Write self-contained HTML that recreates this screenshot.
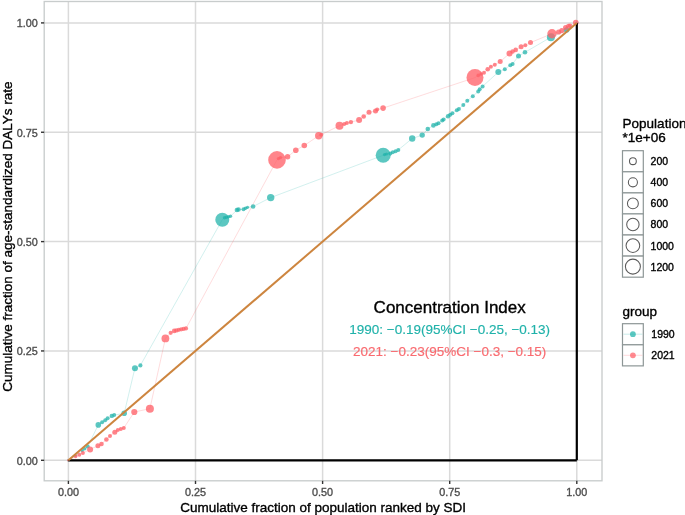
<!DOCTYPE html><html><head><meta charset="utf-8"><style>html,body{margin:0;padding:0;background:#fff;}svg{display:block;filter:blur(0.35px);}text{font-family:"Liberation Sans",sans-serif;stroke-width:0.35px;}</style></head><body>
<svg width="685" height="515" viewBox="0 0 685 515">
<rect x="0" y="0" width="685" height="515" fill="#fff"/>
<line x1="68.40" y1="1.5" x2="68.40" y2="480.8" stroke="#dadada" stroke-width="1.5"/>
<line x1="44.2" y1="460.30" x2="602.0" y2="460.30" stroke="#dadada" stroke-width="1.5"/>
<line x1="195.50" y1="1.5" x2="195.50" y2="480.8" stroke="#dadada" stroke-width="1.5"/>
<line x1="44.2" y1="350.95" x2="602.0" y2="350.95" stroke="#dadada" stroke-width="1.5"/>
<line x1="322.60" y1="1.5" x2="322.60" y2="480.8" stroke="#dadada" stroke-width="1.5"/>
<line x1="44.2" y1="241.60" x2="602.0" y2="241.60" stroke="#dadada" stroke-width="1.5"/>
<line x1="449.70" y1="1.5" x2="449.70" y2="480.8" stroke="#dadada" stroke-width="1.5"/>
<line x1="44.2" y1="132.25" x2="602.0" y2="132.25" stroke="#dadada" stroke-width="1.5"/>
<line x1="576.80" y1="1.5" x2="576.80" y2="480.8" stroke="#dadada" stroke-width="1.5"/>
<line x1="44.2" y1="22.90" x2="602.0" y2="22.90" stroke="#dadada" stroke-width="1.5"/>
<polyline points="68.4,460.3 75.5,455.5 82.3,450.6 84.7,448.8 87.7,446.4 98.3,424.9 102.1,422.3 105.2,420.2 107.6,418.3 111.8,415.9 114.2,415.1 124.2,413.3 134.9,368.2 140.4,365.4 222.3,219.7 224.5,217.8 226.5,217.3 228.5,216.8 230.5,216.3 236.9,210.0 238.5,209.5 243.5,209.3 245.5,208.2 247.5,207.3 253.1,206.5 270.7,197.6 383.2,155.3 384.5,154.6 386.5,154.0 390.3,153.4 392.8,152.2 395.6,151.3 398.3,149.9 412.2,138.5 422.2,135.1 427.8,129.0 433.4,125.4 436.3,124.2 438.5,123.2 442.2,120.5 443.6,119.5 448.0,116.2 450.2,114.7 452.4,113.2 456.8,110.3 458.9,108.9 463.3,104.9 467.3,100.8 472.8,96.2 478.2,91.5 479.7,89.3 482.6,86.4 498.3,72.1 504.8,69.3 510.3,65.2 512.6,63.9 518.5,56.1 525.0,52.3 550.9,37.2 566.6,30.0 576.8,22.9" fill="none" stroke="#20B2AA" stroke-opacity="0.25" stroke-width="0.8"/>
<polyline points="68.4,460.3 75.6,456.4 79.3,454.8 82.9,453.0 90.1,449.4 97.9,445.8 101.5,444.0 106.4,439.5 110.0,435.9 114.8,432.3 117.8,430.1 120.8,428.9 123.8,428.0 134.3,412.0 149.9,408.7 165.4,338.4 170.7,332.8 174.2,330.9 176.4,330.4 178.8,329.8 181.2,329.3 183.6,328.9 186.0,328.4 277.0,159.9 278.5,158.6 280.5,157.6 287.6,156.8 295.8,150.2 304.3,145.5 318.7,135.7 321.3,134.7 339.5,125.7 344.3,124.1 346.9,123.1 350.9,122.1 359.1,120.0 363.7,116.5 369.0,112.2 375.5,111.1 377.2,109.5 383.1,108.1 475.0,77.6 478.2,75.4 481.1,74.0 484.0,72.8 487.7,69.3 490.9,66.7 494.8,64.7 500.2,61.6 509.5,53.5 512.6,51.5 515.7,49.9 521.1,46.8 525.3,45.3 530.5,42.6 552.0,33.7 558.6,32.0 561.8,30.6 565.5,27.4 568.5,26.3 570.0,25.6 575.8,22.5" fill="none" stroke="#F96B70" stroke-opacity="0.3" stroke-width="0.8"/>
<circle cx="68.4" cy="460.3" r="1.2" fill="#20B2AA" fill-opacity="0.73"/>
<circle cx="75.5" cy="455.5" r="1.3" fill="#20B2AA" fill-opacity="0.73"/>
<circle cx="82.3" cy="450.6" r="1.6" fill="#20B2AA" fill-opacity="0.73"/>
<circle cx="84.7" cy="448.8" r="1.8" fill="#20B2AA" fill-opacity="0.73"/>
<circle cx="87.7" cy="446.4" r="2.0" fill="#20B2AA" fill-opacity="0.73"/>
<circle cx="98.3" cy="424.9" r="2.8" fill="#20B2AA" fill-opacity="0.73"/>
<circle cx="102.1" cy="422.3" r="2.0" fill="#20B2AA" fill-opacity="0.73"/>
<circle cx="105.2" cy="420.2" r="2.0" fill="#20B2AA" fill-opacity="0.73"/>
<circle cx="107.6" cy="418.3" r="2.0" fill="#20B2AA" fill-opacity="0.73"/>
<circle cx="111.8" cy="415.9" r="2.2" fill="#20B2AA" fill-opacity="0.73"/>
<circle cx="114.2" cy="415.1" r="2.0" fill="#20B2AA" fill-opacity="0.73"/>
<circle cx="124.2" cy="413.3" r="2.8" fill="#20B2AA" fill-opacity="0.73"/>
<circle cx="134.95" cy="368.2" r="3.0" fill="#20B2AA" fill-opacity="0.73"/>
<circle cx="140.4" cy="365.4" r="2.1" fill="#20B2AA" fill-opacity="0.73"/>
<circle cx="222.3" cy="219.7" r="7.0" fill="#20B2AA" fill-opacity="0.73"/>
<circle cx="224.5" cy="217.8" r="1.7" fill="#20B2AA" fill-opacity="0.73"/>
<circle cx="226.5" cy="217.3" r="1.7" fill="#20B2AA" fill-opacity="0.73"/>
<circle cx="228.5" cy="216.8" r="1.7" fill="#20B2AA" fill-opacity="0.73"/>
<circle cx="230.5" cy="216.3" r="1.7" fill="#20B2AA" fill-opacity="0.73"/>
<circle cx="236.9" cy="210.0" r="2.3" fill="#20B2AA" fill-opacity="0.73"/>
<circle cx="238.5" cy="209.5" r="2.3" fill="#20B2AA" fill-opacity="0.73"/>
<circle cx="243.5" cy="209.3" r="2.0" fill="#20B2AA" fill-opacity="0.73"/>
<circle cx="245.5" cy="208.2" r="1.8" fill="#20B2AA" fill-opacity="0.73"/>
<circle cx="247.5" cy="207.3" r="1.6" fill="#20B2AA" fill-opacity="0.73"/>
<circle cx="253.1" cy="206.5" r="2.3" fill="#20B2AA" fill-opacity="0.73"/>
<circle cx="270.7" cy="197.6" r="3.7" fill="#20B2AA" fill-opacity="0.73"/>
<circle cx="383.2" cy="155.3" r="7.5" fill="#20B2AA" fill-opacity="0.73"/>
<circle cx="384.5" cy="154.6" r="1.6" fill="#20B2AA" fill-opacity="0.73"/>
<circle cx="386.5" cy="154.0" r="1.6" fill="#20B2AA" fill-opacity="0.73"/>
<circle cx="390.3" cy="153.4" r="2.0" fill="#20B2AA" fill-opacity="0.73"/>
<circle cx="392.8" cy="152.2" r="2.0" fill="#20B2AA" fill-opacity="0.73"/>
<circle cx="395.6" cy="151.3" r="2.0" fill="#20B2AA" fill-opacity="0.73"/>
<circle cx="398.3" cy="149.9" r="2.0" fill="#20B2AA" fill-opacity="0.73"/>
<circle cx="412.2" cy="138.5" r="3.2" fill="#20B2AA" fill-opacity="0.73"/>
<circle cx="422.2" cy="135.1" r="2.7" fill="#20B2AA" fill-opacity="0.73"/>
<circle cx="427.8" cy="129.0" r="2.3" fill="#20B2AA" fill-opacity="0.73"/>
<circle cx="433.4" cy="125.4" r="2.3" fill="#20B2AA" fill-opacity="0.73"/>
<circle cx="436.3" cy="124.2" r="2.0" fill="#20B2AA" fill-opacity="0.73"/>
<circle cx="438.5" cy="123.2" r="2.0" fill="#20B2AA" fill-opacity="0.73"/>
<circle cx="442.2" cy="120.5" r="2.0" fill="#20B2AA" fill-opacity="0.73"/>
<circle cx="443.6" cy="119.5" r="2.0" fill="#20B2AA" fill-opacity="0.73"/>
<circle cx="448.0" cy="116.2" r="2.2" fill="#20B2AA" fill-opacity="0.73"/>
<circle cx="450.2" cy="114.7" r="2.0" fill="#20B2AA" fill-opacity="0.73"/>
<circle cx="452.4" cy="113.2" r="2.0" fill="#20B2AA" fill-opacity="0.73"/>
<circle cx="456.8" cy="110.3" r="2.0" fill="#20B2AA" fill-opacity="0.73"/>
<circle cx="458.9" cy="108.9" r="2.0" fill="#20B2AA" fill-opacity="0.73"/>
<circle cx="463.3" cy="104.9" r="2.0" fill="#20B2AA" fill-opacity="0.73"/>
<circle cx="467.3" cy="100.8" r="2.0" fill="#20B2AA" fill-opacity="0.73"/>
<circle cx="472.8" cy="96.2" r="2.0" fill="#20B2AA" fill-opacity="0.73"/>
<circle cx="478.2" cy="91.5" r="2.0" fill="#20B2AA" fill-opacity="0.73"/>
<circle cx="479.7" cy="89.3" r="2.0" fill="#20B2AA" fill-opacity="0.73"/>
<circle cx="482.6" cy="86.4" r="2.0" fill="#20B2AA" fill-opacity="0.73"/>
<circle cx="498.3" cy="72.1" r="3.0" fill="#20B2AA" fill-opacity="0.73"/>
<circle cx="504.8" cy="69.3" r="2.0" fill="#20B2AA" fill-opacity="0.73"/>
<circle cx="510.3" cy="65.2" r="2.0" fill="#20B2AA" fill-opacity="0.73"/>
<circle cx="512.6" cy="63.9" r="2.0" fill="#20B2AA" fill-opacity="0.73"/>
<circle cx="518.5" cy="56.1" r="2.5" fill="#20B2AA" fill-opacity="0.73"/>
<circle cx="525.0" cy="52.3" r="2.3" fill="#20B2AA" fill-opacity="0.73"/>
<circle cx="550.9" cy="37.2" r="4.0" fill="#20B2AA" fill-opacity="0.73"/>
<circle cx="566.6" cy="30.0" r="2.8" fill="#20B2AA" fill-opacity="0.73"/>
<circle cx="576.8" cy="22.9" r="1.5" fill="#20B2AA" fill-opacity="0.73"/>
<circle cx="68.4" cy="460.3" r="1.2" fill="#FF6068" fill-opacity="0.77"/>
<circle cx="75.6" cy="456.4" r="1.8" fill="#FF6068" fill-opacity="0.77"/>
<circle cx="79.3" cy="454.8" r="2.0" fill="#FF6068" fill-opacity="0.77"/>
<circle cx="82.9" cy="453.0" r="2.0" fill="#FF6068" fill-opacity="0.77"/>
<circle cx="90.1" cy="449.4" r="3.0" fill="#FF6068" fill-opacity="0.77"/>
<circle cx="97.9" cy="445.8" r="2.5" fill="#FF6068" fill-opacity="0.77"/>
<circle cx="101.5" cy="444.0" r="2.3" fill="#FF6068" fill-opacity="0.77"/>
<circle cx="106.4" cy="439.5" r="2.3" fill="#FF6068" fill-opacity="0.77"/>
<circle cx="110.0" cy="435.9" r="2.0" fill="#FF6068" fill-opacity="0.77"/>
<circle cx="114.8" cy="432.3" r="2.5" fill="#FF6068" fill-opacity="0.77"/>
<circle cx="117.8" cy="430.1" r="2.0" fill="#FF6068" fill-opacity="0.77"/>
<circle cx="120.8" cy="428.9" r="2.0" fill="#FF6068" fill-opacity="0.77"/>
<circle cx="123.8" cy="428.0" r="2.0" fill="#FF6068" fill-opacity="0.77"/>
<circle cx="134.3" cy="412.0" r="3.1" fill="#FF6068" fill-opacity="0.77"/>
<circle cx="149.9" cy="408.7" r="4.0" fill="#FF6068" fill-opacity="0.77"/>
<circle cx="165.4" cy="338.4" r="3.9" fill="#FF6068" fill-opacity="0.77"/>
<circle cx="170.7" cy="332.8" r="2.1" fill="#FF6068" fill-opacity="0.77"/>
<circle cx="174.2" cy="330.9" r="2.3" fill="#FF6068" fill-opacity="0.77"/>
<circle cx="176.4" cy="330.4" r="2.2" fill="#FF6068" fill-opacity="0.77"/>
<circle cx="178.8" cy="329.8" r="2.1" fill="#FF6068" fill-opacity="0.77"/>
<circle cx="181.2" cy="329.3" r="2.1" fill="#FF6068" fill-opacity="0.77"/>
<circle cx="183.6" cy="328.9" r="2.1" fill="#FF6068" fill-opacity="0.77"/>
<circle cx="186.0" cy="328.4" r="2.1" fill="#FF6068" fill-opacity="0.77"/>
<circle cx="277.0" cy="159.9" r="8.8" fill="#FF6068" fill-opacity="0.77"/>
<circle cx="278.5" cy="158.6" r="1.7" fill="#FF6068" fill-opacity="0.77"/>
<circle cx="280.5" cy="157.6" r="1.7" fill="#FF6068" fill-opacity="0.77"/>
<circle cx="287.6" cy="156.8" r="2.7" fill="#FF6068" fill-opacity="0.77"/>
<circle cx="295.8" cy="150.2" r="2.8" fill="#FF6068" fill-opacity="0.77"/>
<circle cx="304.3" cy="145.5" r="2.8" fill="#FF6068" fill-opacity="0.77"/>
<circle cx="318.7" cy="135.7" r="3.7" fill="#FF6068" fill-opacity="0.77"/>
<circle cx="321.3" cy="134.7" r="2.0" fill="#FF6068" fill-opacity="0.77"/>
<circle cx="339.5" cy="125.7" r="4.0" fill="#FF6068" fill-opacity="0.77"/>
<circle cx="344.3" cy="124.1" r="2.0" fill="#FF6068" fill-opacity="0.77"/>
<circle cx="346.9" cy="123.1" r="2.0" fill="#FF6068" fill-opacity="0.77"/>
<circle cx="350.9" cy="122.1" r="2.2" fill="#FF6068" fill-opacity="0.77"/>
<circle cx="359.1" cy="120.0" r="3.0" fill="#FF6068" fill-opacity="0.77"/>
<circle cx="363.7" cy="116.5" r="2.3" fill="#FF6068" fill-opacity="0.77"/>
<circle cx="369.0" cy="112.2" r="2.5" fill="#FF6068" fill-opacity="0.77"/>
<circle cx="375.5" cy="111.1" r="2.5" fill="#FF6068" fill-opacity="0.77"/>
<circle cx="377.2" cy="109.5" r="2.0" fill="#FF6068" fill-opacity="0.77"/>
<circle cx="383.1" cy="108.1" r="2.8" fill="#FF6068" fill-opacity="0.77"/>
<circle cx="475.0" cy="77.6" r="8.5" fill="#FF6068" fill-opacity="0.77"/>
<circle cx="478.2" cy="75.4" r="1.8" fill="#FF6068" fill-opacity="0.77"/>
<circle cx="481.1" cy="74.0" r="1.8" fill="#FF6068" fill-opacity="0.77"/>
<circle cx="484.0" cy="72.8" r="2.0" fill="#FF6068" fill-opacity="0.77"/>
<circle cx="487.7" cy="69.3" r="2.3" fill="#FF6068" fill-opacity="0.77"/>
<circle cx="490.9" cy="66.7" r="2.0" fill="#FF6068" fill-opacity="0.77"/>
<circle cx="494.8" cy="64.7" r="2.0" fill="#FF6068" fill-opacity="0.77"/>
<circle cx="500.2" cy="61.6" r="2.5" fill="#FF6068" fill-opacity="0.77"/>
<circle cx="509.5" cy="53.5" r="3.0" fill="#FF6068" fill-opacity="0.77"/>
<circle cx="512.6" cy="51.5" r="2.3" fill="#FF6068" fill-opacity="0.77"/>
<circle cx="515.7" cy="49.9" r="2.3" fill="#FF6068" fill-opacity="0.77"/>
<circle cx="521.1" cy="46.8" r="2.5" fill="#FF6068" fill-opacity="0.77"/>
<circle cx="525.3" cy="45.3" r="2.0" fill="#FF6068" fill-opacity="0.77"/>
<circle cx="530.5" cy="42.6" r="2.5" fill="#FF6068" fill-opacity="0.77"/>
<circle cx="552.0" cy="33.7" r="4.7" fill="#FF6068" fill-opacity="0.77"/>
<circle cx="558.6" cy="32.0" r="2.6" fill="#FF6068" fill-opacity="0.77"/>
<circle cx="561.8" cy="30.6" r="2.6" fill="#FF6068" fill-opacity="0.77"/>
<circle cx="565.5" cy="27.4" r="2.5" fill="#FF6068" fill-opacity="0.77"/>
<circle cx="568.5" cy="26.3" r="2.5" fill="#FF6068" fill-opacity="0.77"/>
<circle cx="570.0" cy="25.6" r="2.2" fill="#FF6068" fill-opacity="0.77"/>
<circle cx="575.8" cy="22.5" r="2.8" fill="#FF6068" fill-opacity="0.77"/>
<line x1="68.4" y1="460.3" x2="576.8" y2="460.3" stroke="#000" stroke-width="2.2"/>
<line x1="576.8" y1="460.3" x2="576.8" y2="22.899999999999977" stroke="#000" stroke-width="2.2"/>
<line x1="68.4" y1="460.3" x2="576.8" y2="22.899999999999977" stroke="#CD853F" stroke-width="2"/>
<rect x="44.2" y="1.5" width="557.8" height="479.3" fill="none" stroke="#c8cccc" stroke-width="1.35"/>
<line x1="41.0" y1="460.30" x2="44.2" y2="460.30" stroke="#333" stroke-width="1.4"/>
<line x1="68.40" y1="480.8" x2="68.40" y2="484.0" stroke="#333" stroke-width="1.4"/>
<text x="37.8" y="464.7" font-size="10.8" fill="#4d4d4d" stroke="#4d4d4d" text-anchor="end">0.00</text>
<text x="68.40" y="495.8" font-size="10.8" fill="#4d4d4d" stroke="#4d4d4d" text-anchor="middle">0.00</text>
<line x1="41.0" y1="350.95" x2="44.2" y2="350.95" stroke="#333" stroke-width="1.4"/>
<line x1="195.50" y1="480.8" x2="195.50" y2="484.0" stroke="#333" stroke-width="1.4"/>
<text x="37.8" y="355.3" font-size="10.8" fill="#4d4d4d" stroke="#4d4d4d" text-anchor="end">0.25</text>
<text x="195.50" y="495.8" font-size="10.8" fill="#4d4d4d" stroke="#4d4d4d" text-anchor="middle">0.25</text>
<line x1="41.0" y1="241.60" x2="44.2" y2="241.60" stroke="#333" stroke-width="1.4"/>
<line x1="322.60" y1="480.8" x2="322.60" y2="484.0" stroke="#333" stroke-width="1.4"/>
<text x="37.8" y="246.0" font-size="10.8" fill="#4d4d4d" stroke="#4d4d4d" text-anchor="end">0.50</text>
<text x="322.60" y="495.8" font-size="10.8" fill="#4d4d4d" stroke="#4d4d4d" text-anchor="middle">0.50</text>
<line x1="41.0" y1="132.25" x2="44.2" y2="132.25" stroke="#333" stroke-width="1.4"/>
<line x1="449.70" y1="480.8" x2="449.70" y2="484.0" stroke="#333" stroke-width="1.4"/>
<text x="37.8" y="136.7" font-size="10.8" fill="#4d4d4d" stroke="#4d4d4d" text-anchor="end">0.75</text>
<text x="449.70" y="495.8" font-size="10.8" fill="#4d4d4d" stroke="#4d4d4d" text-anchor="middle">0.75</text>
<line x1="41.0" y1="22.90" x2="44.2" y2="22.90" stroke="#333" stroke-width="1.4"/>
<line x1="576.80" y1="480.8" x2="576.80" y2="484.0" stroke="#333" stroke-width="1.4"/>
<text x="37.8" y="27.3" font-size="10.8" fill="#4d4d4d" stroke="#4d4d4d" text-anchor="end">1.00</text>
<text x="576.80" y="495.8" font-size="10.8" fill="#4d4d4d" stroke="#4d4d4d" text-anchor="middle">1.00</text>
<text x="323.1" y="511.6" font-size="13.5" fill="#000" stroke="#000" text-anchor="middle">Cumulative fraction of population ranked by SDI</text>
<text transform="translate(11.8,236.6) rotate(-90)" x="0" y="0" font-size="13.5" fill="#000" stroke="#000" text-anchor="middle">Cumulative fraction of age-standardized DALYs rate</text>
<text x="449.7" y="313.4" font-size="17" fill="#000" stroke="#000" text-anchor="middle">Concentration Index</text>
<text x="449.7" y="333.7" font-size="13.5" fill="#20B2AA" stroke="#20B2AA" style="stroke-width:0.15px" text-anchor="middle">1990: −0.19(95%CI −0.25, −0.13)</text>
<text x="449.7" y="355.9" font-size="13.5" fill="#F96B70" stroke="#F96B70" style="stroke-width:0.15px" text-anchor="middle">2021: −0.23(95%CI −0.3, −0.15)</text>
<text x="622.6" y="128.2" font-size="13.5" fill="#000" stroke="#000">Population</text>
<text x="622.6" y="142.2" font-size="13.5" fill="#000" stroke="#000">*1e+06</text>
<rect x="622.5" y="150.7" width="20.8" height="21.08" fill="#fff" stroke="#8d9696" stroke-width="1.2"/>
<circle cx="632.9" cy="161.2" r="3.4" fill="none" stroke="#5a5a5a" stroke-width="1.05"/>
<text x="650.6" y="165.1" font-size="10.5" fill="#000" stroke="#000">200</text>
<rect x="622.5" y="171.8" width="20.8" height="21.08" fill="#fff" stroke="#8d9696" stroke-width="1.2"/>
<circle cx="632.9" cy="182.3" r="4.55" fill="none" stroke="#5a5a5a" stroke-width="1.05"/>
<text x="650.6" y="186.2" font-size="10.5" fill="#000" stroke="#000">400</text>
<rect x="622.5" y="192.9" width="20.8" height="21.08" fill="#fff" stroke="#8d9696" stroke-width="1.2"/>
<circle cx="632.9" cy="203.4" r="5.45" fill="none" stroke="#5a5a5a" stroke-width="1.05"/>
<text x="650.6" y="207.3" font-size="10.5" fill="#000" stroke="#000">600</text>
<rect x="622.5" y="213.9" width="20.8" height="21.08" fill="#fff" stroke="#8d9696" stroke-width="1.2"/>
<circle cx="632.9" cy="224.5" r="6.2" fill="none" stroke="#5a5a5a" stroke-width="1.05"/>
<text x="650.6" y="228.4" font-size="10.5" fill="#000" stroke="#000">800</text>
<rect x="622.5" y="235.0" width="20.8" height="21.08" fill="#fff" stroke="#8d9696" stroke-width="1.2"/>
<circle cx="632.9" cy="245.6" r="6.85" fill="none" stroke="#5a5a5a" stroke-width="1.05"/>
<text x="650.6" y="249.5" font-size="10.5" fill="#000" stroke="#000">1000</text>
<rect x="622.5" y="256.1" width="20.8" height="21.08" fill="#fff" stroke="#8d9696" stroke-width="1.2"/>
<circle cx="632.9" cy="266.6" r="7.5" fill="none" stroke="#5a5a5a" stroke-width="1.05"/>
<text x="650.6" y="270.5" font-size="10.5" fill="#000" stroke="#000">1200</text>
<text x="622.6" y="316.2" font-size="13.5" fill="#000" stroke="#000">group</text>
<rect x="622.5" y="323.7" width="20.8" height="21.08" fill="#fff" stroke="#8d9696" stroke-width="1.2"/>
<line x1="623.5" y1="334.2" x2="642.3" y2="334.2" stroke="#20B2AA" stroke-opacity="0.3" stroke-width="0.8"/>
<circle cx="632.9" cy="334.2" r="2.9" fill="#20B2AA" fill-opacity="0.73"/>
<text x="651.3" y="338.1" font-size="10.5" fill="#000" stroke="#000">1990</text>
<rect x="622.5" y="344.8" width="20.8" height="21.08" fill="#fff" stroke="#8d9696" stroke-width="1.2"/>
<line x1="623.5" y1="355.3" x2="642.3" y2="355.3" stroke="#FF6068" stroke-opacity="0.3" stroke-width="0.8"/>
<circle cx="632.9" cy="355.3" r="2.9" fill="#FF6068" fill-opacity="0.73"/>
<text x="651.3" y="359.2" font-size="10.5" fill="#000" stroke="#000">2021</text>
</svg></body></html>
